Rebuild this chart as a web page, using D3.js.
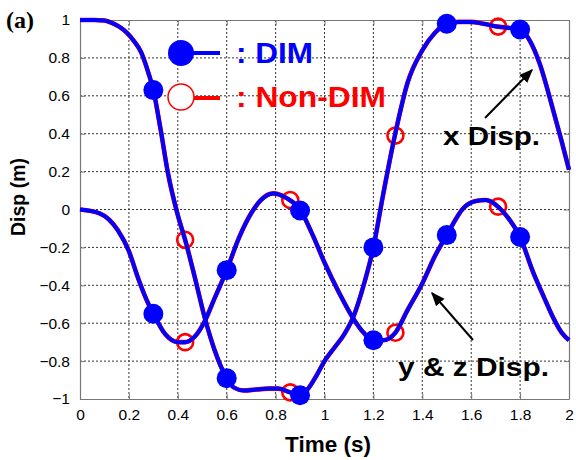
<!DOCTYPE html>
<html>
<head>
<meta charset="utf-8">
<script src="https://cdn.jsdelivr.net/npm/d3@7"></script>
<style>
  html, body { margin: 0; padding: 0; background: #fff; }
  svg { display: block; }
  text { font-family: "Liberation Sans", Arial, sans-serif; }
</style>
</head>
<body>
<svg id="chart" width="576" height="460"></svg>
<script>
// Time axis and displacement axis ticks
const xTicks = [0, 0.2, 0.4, 0.6, 0.8, 1, 1.2, 1.4, 1.6, 1.8, 2];
const yTicks = [1, 0.8, 0.6, 0.4, 0.2, 0, -0.2, -0.4, -0.6, -0.8, -1];

// x displacement history (m) vs time (s)
const xDispT = [0, 0.06, 0.1, 0.13, 0.16, 0.19, 0.22, 0.25, 0.28, 0.3, 0.33, 0.36, 0.4, 0.43, 0.47, 0.51, 0.55, 0.6, 0.63, 0.67, 0.72, 0.77, 0.81, 0.86, 0.9, 0.93, 0.97, 1.0, 1.04, 1.08, 1.12, 1.16, 1.2, 1.24, 1.286, 1.34, 1.4, 1.45, 1.5, 1.55, 1.6, 1.65, 1.71, 1.8, 1.84, 1.88, 1.935, 1.97, 2.0];
const xDispV = [1.0, 1.0, 0.997, 0.985, 0.965, 0.935, 0.89, 0.83, 0.72, 0.63, 0.42, 0.19, -0.03, -0.16, -0.36, -0.57, -0.74, -0.89, -0.94, -0.955, -0.95, -0.945, -0.945, -0.965, -0.98, -0.95, -0.87, -0.80, -0.73, -0.66, -0.56, -0.40, -0.2, 0.08, 0.38, 0.67, 0.84, 0.93, 0.98, 0.99, 0.99, 0.98, 0.965, 0.95, 0.89, 0.77, 0.525, 0.36, 0.21];

// y & z displacement history (m) vs time (s)
const yzDispT = [0, 0.08, 0.155, 0.2, 0.237, 0.27, 0.3, 0.35, 0.4, 0.43, 0.47, 0.51, 0.55, 0.6, 0.65, 0.7, 0.74, 0.79, 0.845, 0.9, 0.95, 1.0, 1.06, 1.12, 1.16, 1.2, 1.24, 1.29, 1.34, 1.4, 1.45, 1.5, 1.57, 1.62, 1.66, 1.71, 1.76, 1.8, 1.85, 1.9, 1.935, 1.97, 2.0];
const yzDispV = [0, -0.02, -0.11, -0.22, -0.36, -0.47, -0.55, -0.66, -0.70, -0.70, -0.67, -0.59, -0.47, -0.32, -0.15, -0.02, 0.05, 0.085, 0.06, 0.0, -0.13, -0.28, -0.44, -0.58, -0.65, -0.69, -0.69, -0.65, -0.53, -0.39, -0.25, -0.135, 0.01, 0.045, 0.05, 0.015, -0.06, -0.145, -0.32, -0.47, -0.57, -0.65, -0.69];

// DIM sample markers
const dimT = [0.3, 0.6, 0.9, 1.2, 1.5, 1.8];
const dimX = [0.63, -0.89, -0.98, -0.2, 0.98, 0.95];
const dimYZ = [-0.55, -0.32, -0.005, -0.69, -0.135, -0.145];

// Non-DIM sample markers
const nonDimT = [0.43, 0.86, 1.29, 1.71];
const nonDimX = [-0.16, -0.965, 0.39, 0.965];
const nonDimYZ = [-0.70, 0.05, -0.65, 0.015];

const svg = d3.select("#chart");
const plotL = 80, plotR = 569, plotT = 20, plotB = 399;

const x = d3.scaleLinear().domain([0, 2]).range([plotL, plotR]);
const y = d3.scaleLinear().domain([-1, 1]).range([plotB, plotT]);

const blue = "#0000ff", red = "#ff0000";

// dotted grid
const grid = svg.append("g");
grid.selectAll("line.gx").data(xTicks.slice(1, -1)).enter().append("line")
  .attr("x1", d => x(d)).attr("x2", d => x(d))
  .attr("y1", plotT).attr("y2", plotB)
  .attr("stroke", "#333").attr("stroke-width", 1).attr("stroke-dasharray", "2,2");
grid.selectAll("line.gy").data(yTicks.slice(1, -1)).enter().append("line")
  .attr("x1", plotL).attr("x2", plotR)
  .attr("y1", d => y(d)).attr("y2", d => y(d))
  .attr("stroke", "#333").attr("stroke-width", 1).attr("stroke-dasharray", "2,2");

// axes (ticks inward, labels outside)
svg.append("g").attr("transform", `translate(0,${plotB})`)
  .call(d3.axisBottom(x).tickValues(xTicks).tickFormat(d3.format("~g")).tickSizeInner(-5).tickSizeOuter(0).tickPadding(10));
svg.append("g").attr("transform", `translate(${plotL},0)`)
  .call(d3.axisLeft(y).tickValues(yTicks).tickFormat(d3.format("~g")).tickSizeInner(-5).tickSizeOuter(0).tickPadding(10));
svg.append("g").attr("transform", `translate(0,${plotT})`)
  .call(d3.axisTop(x).tickValues(xTicks).tickFormat("").tickSizeInner(-5).tickSizeOuter(0));
svg.append("g").attr("transform", `translate(${plotR},0)`)
  .call(d3.axisRight(y).tickValues(yTicks).tickFormat("").tickSizeInner(-5).tickSizeOuter(0));
svg.selectAll(".domain").attr("stroke", "#777").attr("stroke-width", 1.2);
svg.selectAll(".tick line").attr("stroke", "#777");
svg.selectAll(".tick text").attr("fill", "#000").style("font-size", "15.5px");

// curves
const line = d3.line().x(d => x(d[0])).y(d => y(d[1])).curve(d3.curveMonotoneX);
const xSeries = xDispT.map((t, i) => [t, xDispV[i]]);
const yzSeries = yzDispT.map((t, i) => [t, yzDispV[i]]);

// Non-DIM lines and markers (underneath)
[xSeries, yzSeries].forEach(s => {
  svg.append("path").attr("d", line(s)).attr("fill", "none")
    .attr("stroke", red).attr("stroke-width", 4.6).attr("stroke-linejoin", "round");
});
const nonDimPts = nonDimT.map((t, i) => [t, nonDimX[i]]).concat(nonDimT.map((t, i) => [t, nonDimYZ[i]]));
svg.append("g").selectAll("circle").data(nonDimPts).enter().append("circle")
  .attr("cx", d => x(d[0])).attr("cy", d => y(d[1])).attr("r", 8)
  .attr("fill", "none").attr("stroke", red).attr("stroke-width", 2.6);

// DIM lines and markers
[xSeries, yzSeries].forEach(s => {
  svg.append("path").attr("d", line(s)).attr("fill", "none")
    .attr("stroke", blue).attr("stroke-width", 4).attr("stroke-linejoin", "round");
});
const dimPts = dimT.map((t, i) => [t, dimX[i]]).concat(dimT.map((t, i) => [t, dimYZ[i]]));
svg.append("g").selectAll("circle").data(dimPts).enter().append("circle")
  .attr("cx", d => x(d[0])).attr("cy", d => y(d[1])).attr("r", 10)
  .attr("fill", blue);

// legend
const lg = svg.append("g");
lg.append("line").attr("x1", 181).attr("x2", 220).attr("y1", 53).attr("y2", 53)
  .attr("stroke", blue).attr("stroke-width", 4);
lg.append("circle").attr("cx", 181).attr("cy", 53).attr("r", 13).attr("fill", blue);
lg.append("text").attr("x", 236).attr("y", 63).attr("fill", blue)
  .attr("font-size", "29px").attr("font-weight", "bold")
  .attr("textLength", 77).attr("lengthAdjust", "spacingAndGlyphs").text(": DIM");
lg.append("line").attr("x1", 194).attr("x2", 220).attr("y1", 98).attr("y2", 98)
  .attr("stroke", red).attr("stroke-width", 4);
lg.append("circle").attr("cx", 181).attr("cy", 97).attr("r", 13)
  .attr("fill", "#fff").attr("stroke", red).attr("stroke-width", 1.5);
lg.append("text").attr("x", 236).attr("y", 107).attr("fill", red)
  .attr("font-size", "29px").attr("font-weight", "bold")
  .attr("textLength", 150).attr("lengthAdjust", "spacingAndGlyphs").text(": Non-DIM");

// annotations with arrows
svg.append("defs").append("marker").attr("id", "arrow")
  .attr("viewBox", "0 0 10 10").attr("refX", 9).attr("refY", 5)
  .attr("markerWidth", 7).attr("markerHeight", 7).attr("orient", "auto")
  .append("path").attr("d", "M0,1 L10,5 L0,9 Z").attr("fill", "#000");

svg.append("line").attr("x1", 485).attr("y1", 118).attr("x2", 532).attr("y2", 70)
  .attr("stroke", "#000").attr("stroke-width", 2).attr("marker-end", "url(#arrow)");
svg.append("text").attr("x", 443).attr("y", 145).attr("font-size", "25px").attr("font-weight", "bold")
  .attr("textLength", 97).attr("lengthAdjust", "spacingAndGlyphs").text("x Disp.");

svg.append("line").attr("x1", 473).attr("y1", 340).attr("x2", 432).attr("y2", 293)
  .attr("stroke", "#000").attr("stroke-width", 2).attr("marker-end", "url(#arrow)");
svg.append("text").attr("x", 398).attr("y", 376).attr("font-size", "25px").attr("font-weight", "bold")
  .attr("textLength", 151).attr("lengthAdjust", "spacingAndGlyphs").text("y & z Disp.");

// axis titles
svg.append("text").attr("x", 328).attr("y", 452).attr("text-anchor", "middle")
  .attr("font-size", "22.5px").attr("font-weight", "bold").text("Time (s)");
svg.append("text").attr("transform", "translate(25,197) rotate(-90)").attr("text-anchor", "middle")
  .attr("font-size", "19.5px").attr("font-weight", "bold").text("Disp (m)");

// panel label
svg.append("text").attr("x", 6).attr("y", 28)
  .style("font-family", "'Liberation Serif', 'Times New Roman', serif")
  .attr("font-size", "24px").attr("font-weight", "bold").text("(a)");
</script>
</body>
</html>
